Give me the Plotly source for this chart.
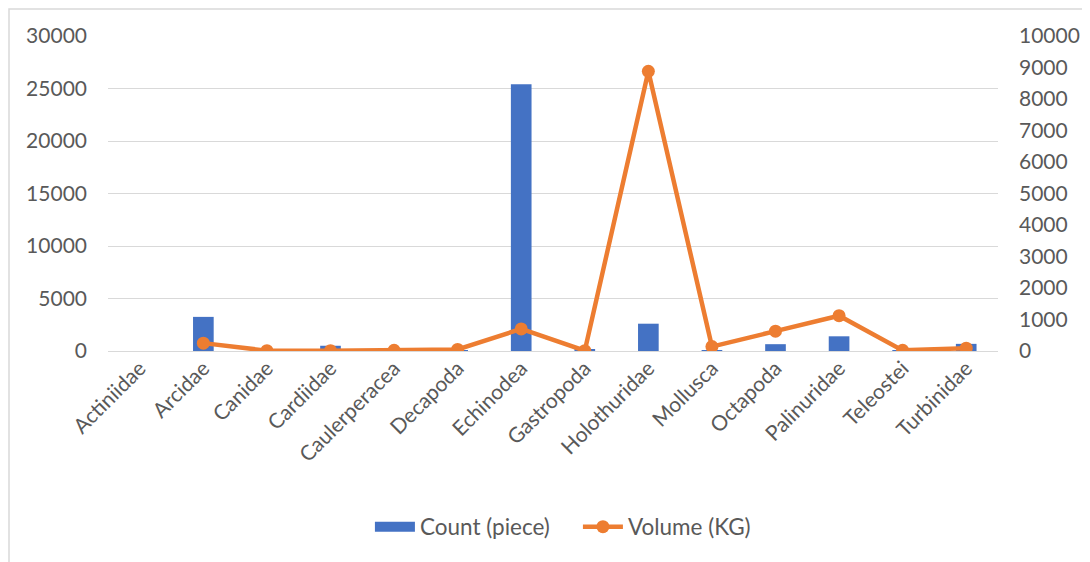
import plotly.graph_objects as go

families = ['Actiniidae', 'Arcidae', 'Canidae', 'Cardiidae', 'Caulerperacea', 'Decapoda',
            'Echinodea', 'Gastropoda', 'Holothuridae', 'Mollusca', 'Octapoda', 'Palinuridae',
            'Teleostei', 'Turbinidae']
count_piece = [0, 3250, 20, 500, 30, 40, 25400, 150, 2600, 60, 650, 1400, 30, 680]
volume_kg = [None, 250, 10, 10, 20, 50, 700, 10, 8880, 140, 630, 1120, 20, 90]

left_ticks = [0, 5000, 10000, 15000, 20000, 25000, 30000]
right_ticks = [0, 1000, 2000, 3000, 4000, 5000, 6000, 7000, 8000, 9000, 10000]

FONT = 'Lato'
GREY = '#595959'
BLUE = '#4472C4'
ORANGE = '#ED7D31'


def main():
    fig = go.Figure()
    fig.add_trace(go.Bar(
        x=families, y=count_piece, name='Count (piece)', showlegend=False,
        marker=dict(color=BLUE, line=dict(width=0)),
    ))
    # legend entry drawn as a wide block, like the bar key in the original
    fig.add_trace(go.Scatter(
        x=[None], y=[None], name='Count (piece)', mode='lines',
        line=dict(color=BLUE, width=11),
    ))
    fig.add_trace(go.Scatter(
        x=families, y=volume_kg, name='Volume (KG)', yaxis='y2',
        mode='lines+markers', connectgaps=False,
        line=dict(color=ORANGE, width=4.5),
        marker=dict(color=ORANGE, size=13),
    ))

    # page body adds an 8px offset, so the figure is 8px smaller than the window
    fig.update_layout(
        width=1082, height=554,
        margin=dict(l=100, r=92, t=28, b=211),
        paper_bgcolor='white', plot_bgcolor='white',
        font=dict(family=FONT, size=20, color=GREY),
        bargap=0.675,
        showlegend=True,
        legend=dict(orientation='h', x=0.528, xanchor='center', y=-0.559, yanchor='middle',
                    font=dict(size=22.5, color=GREY), itemwidth=40, tracegroupgap=0,
                    entrywidth=153),
        xaxis=dict(tickangle=-45, showgrid=False, showline=False, ticks='', automargin=False,
                   range=[-0.5, len(families) - 0.5],
                   tickfont=dict(size=21, color=GREY)),
        yaxis=dict(range=[0, 30000], tickvals=left_ticks, showgrid=True,
                   gridcolor='#D9D9D9', gridwidth=1.3, zeroline=True,
                   zerolinecolor='#D9D9D9', zerolinewidth=1.3, automargin=False,
                   ticks='', ticklabelstandoff=20, tickformat='d',
                   tickfont=dict(size=21, color=GREY)),
        yaxis2=dict(range=[0, 10000], tickvals=right_ticks, overlaying='y', side='right',
                    showgrid=False, zeroline=False, ticks='', ticklabelstandoff=20,
                    automargin=False, tickformat='d', tickfont=dict(size=21, color=GREY)),
        shapes=[dict(type='rect', xref='paper', yref='paper',
                     x0=-99 / 890, x1=1.2, y0=-1.2, y1=342 / 315,
                     line=dict(color='#D9D9D9', width=1.5), layer='below')],
    )
    fig.write_html('out.html')


if __name__ == '__main__':
    main()
